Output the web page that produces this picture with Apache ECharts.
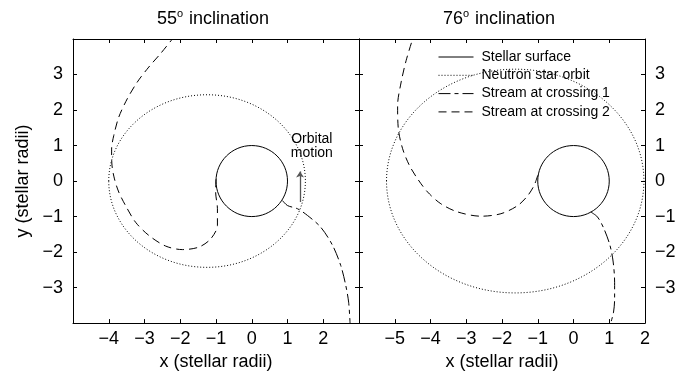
<!DOCTYPE html>
<html>
<head>
<meta charset="utf-8">
<title>Stream trajectories</title>
<script src="https://cdn.jsdelivr.net/npm/echarts@6.0.0/dist/echarts.min.js"></script>
<style>
  html, body { margin: 0; padding: 0; background: #fff; }
  #chart { width: 685px; height: 376px; }
</style>
</head>
<body>
<div id="chart"></div>
<script>
  // ellipses: [centre x, centre y, radius x, radius y] in stellar radii
  var surface = [0, 0, 1, 1];
  var orbit55 = [-1.25, 0, 2.75, 2.43];
  var orbit76 = [-1.63, 0, 3.6, 3.15];

  // stream paths, [x, y]
  var stream1_55 = [[0.86, -0.55], [1.0, -0.69], [1.28, -0.78], [1.56, -0.97], [1.93, -1.30],
    [2.26, -1.81], [2.49, -2.38], [2.63, -2.94], [2.71, -3.41], [2.75, -4.0]];
  var stream2_55 = [[-1.0, 0.05], [-1.01, -0.31], [-0.96, -0.78], [-0.96, -1.25], [-1.15, -1.63],
    [-1.48, -1.86], [-1.94, -1.93], [-2.41, -1.83], [-2.88, -1.53], [-3.25, -1.16], [-3.53, -0.69],
    [-3.72, -0.31], [-3.84, 0.06], [-3.91, 0.45], [-3.92, 0.9], [-3.86, 1.28], [-3.72, 1.80],
    [-3.48, 2.32], [-3.2, 2.79], [-2.88, 3.21], [-2.55, 3.59], [-2.22, 4.0]];
  var stream1_76 = [[0.48, -0.87], [0.67, -1.01], [0.85, -1.34], [1.02, -1.81], [1.11, -2.28],
    [1.15, -2.85], [1.15, -3.32], [1.12, -3.69], [1.04, -4.0]];
  var stream2_76 = [[-1.0, 0.16], [-1.10, -0.12], [-1.28, -0.41], [-1.56, -0.69], [-2.03, -0.92],
    [-2.59, -0.99], [-3.24, -0.87], [-3.71, -0.64], [-4.08, -0.31], [-4.36, 0.06], [-4.59, 0.44],
    [-4.78, 0.91], [-4.90, 1.47], [-4.92, 2.13], [-4.82, 2.79], [-4.68, 3.40], [-4.5, 4.0]];

  // orbital motion arrow, from / to
  var arrow55 = [[1.35, -0.59], [1.35, 0.27]];
  var arrowLabel55 = [1.68, 0.99];

  var titles = ['55', '76'];
  var xRanges = [[-5, 3], [-6, 2]];
  var yRange = [-4, 4];
  var legendNames = ['Stellar surface', 'Neutron star orbit', 'Stream at crossing 1', 'Stream at crossing 2'];

  var FONT = 'Liberation Sans, Arial, sans-serif';
  var DOT = [1, 2];
  var DASH = [8, 5];
  var DASHDOT = [12, 4, 4, 4];

  function fmt(v) {
    return v < 0 ? '\u2212' + (-v) : String(v);
  }

  function ellipseItem(dash) {
    return function (params, api) {
      var c = api.coord([api.value(0), api.value(1)]);
      var s = api.size([api.value(2), api.value(3)]);
      return {
        type: 'ellipse',
        shape: { cx: c[0], cy: c[1], rx: s[0], ry: s[1] },
        style: { fill: 'none', stroke: '#000', lineWidth: 1, lineDash: dash }
      };
    };
  }

  function xAxis(grid, pos, range, labels, hideMax) {
    return {
      type: 'value', gridIndex: grid, position: pos,
      min: range[0], max: range[1], interval: 1,
      axisLine: { show: true, onZero: false, lineStyle: { color: '#000', width: 1 } },
      axisTick: { show: true, inside: true, length: 4, lineStyle: { color: '#000' } },
      splitLine: { show: false },
      axisLabel: {
        show: labels, showMinLabel: false, showMaxLabel: !hideMax,
        formatter: fmt, color: '#000', fontSize: 18, fontFamily: FONT, margin: 7
      },
      name: labels ? 'x (stellar radii)' : '',
      nameLocation: 'middle', nameGap: 26,
      nameTextStyle: { color: '#000', fontSize: 18, fontFamily: FONT }
    };
  }

  function yAxis(grid, pos, labels, named) {
    return {
      type: 'value', gridIndex: grid, position: pos,
      min: yRange[0], max: yRange[1], interval: 1,
      axisLine: { show: true, onZero: false, lineStyle: { color: '#000', width: 1 } },
      axisTick: { show: true, inside: true, length: 4, lineStyle: { color: '#000' } },
      splitLine: { show: false },
      axisLabel: {
        show: labels, showMinLabel: false, showMaxLabel: false,
        formatter: fmt, color: '#000', fontSize: 18, fontFamily: FONT, margin: 10
      },
      name: named ? 'y (stellar radii)' : '',
      nameLocation: 'middle', nameGap: 41,
      nameTextStyle: { color: '#000', fontSize: 18, fontFamily: FONT }
    };
  }

  function streamSeries(name, data, grid, dash) {
    return {
      name: name, type: 'line', xAxisIndex: grid * 2, yAxisIndex: grid * 2,
      data: data, symbol: 'none', smooth: 0.3, silent: true,
      itemStyle: { color: '#000' },
      lineStyle: { color: '#000', width: 1, type: dash }
    };
  }

  function ellipseSeries(name, data, grid, dash) {
    return {
      name: name, type: 'custom', xAxisIndex: grid * 2, yAxisIndex: grid * 2,
      data: [data], silent: true, renderItem: ellipseItem(dash)
    };
  }

  var chart = echarts.init(document.getElementById('chart'));

  var s1left = streamSeries(legendNames[2], stream1_55, 0, DASHDOT);
  s1left.markLine = {
    silent: true, symbol: ['none', 'arrow'], symbolSize: 6,
    lineStyle: { color: '#555', width: 1.3, type: 'solid' },
    label: { show: false },
    data: [[{ coord: arrow55[0] }, { coord: arrow55[1] }]]
  };
  s1left.markPoint = {
    silent: true, symbol: 'circle', symbolSize: 0,
    label: {
      show: true, position: 'inside', formatter: 'Orbital\nmotion',
      color: '#000', fontSize: 14, lineHeight: 14, fontFamily: FONT
    },
    data: [{ coord: arrowLabel55 }]
  };

  var option = {
    animation: false,
    backgroundColor: '#fff',
    graphic: titles.map(function (t, i) {
      return {
        type: 'text', x: i === 0 ? 213 : 499, y: 19,
        style: {
          text: t + '{s|o} inclination', align: 'center', verticalAlign: 'middle',
          fontSize: 18, fontFamily: FONT, fill: '#000',
          rich: { s: { fontSize: 11, fontFamily: FONT, verticalAlign: 'top', padding: [0, 1, 11, 0] } }
        }
      };
    }),
    legend: {
      data: legendNames, orient: 'vertical', left: 438, top: 50, padding: 0,
      itemWidth: 35, itemHeight: 14, itemGap: 4.3, selectedMode: false,
      itemStyle: { opacity: 0 },
      lineStyle: { width: 1 },
      textStyle: { color: '#000', fontSize: 14, fontFamily: FONT, padding: [0, 0, 0, 3] }
    },
    grid: [
      { left: 73, top: 39, width: 286, height: 286 },
      { left: 359, top: 39, width: 286, height: 286 }
    ],
    xAxis: [
      xAxis(0, 'bottom', xRanges[0], true, true),
      xAxis(0, 'top', xRanges[0], false, true),
      xAxis(1, 'bottom', xRanges[1], true, false),
      xAxis(1, 'top', xRanges[1], false, false)
    ],
    yAxis: [
      yAxis(0, 'left', true, true),
      yAxis(0, 'right', false, false),
      yAxis(1, 'left', false, false),
      yAxis(1, 'right', true, false)
    ],
    series: [
      // legend-only entries for the drawn ellipses
      { name: legendNames[0], type: 'line', data: [], symbol: 'none', itemStyle: { color: '#000' },
        lineStyle: { color: '#000', width: 1, type: 'solid' } },
      { name: legendNames[1], type: 'line', data: [], symbol: 'none', itemStyle: { color: '#000' },
        lineStyle: { color: '#000', width: 1, type: DOT } },
      ellipseSeries(legendNames[0], surface, 0, null),
      ellipseSeries(legendNames[0], surface, 1, null),
      ellipseSeries(legendNames[1], orbit55, 0, DOT),
      ellipseSeries(legendNames[1], orbit76, 1, DOT),
      s1left,
      streamSeries(legendNames[2], stream1_76, 1, DASHDOT),
      streamSeries(legendNames[3], stream2_55, 0, DASH),
      streamSeries(legendNames[3], stream2_76, 1, DASH)
    ]
  };

  chart.setOption(option);
</script>
</body>
</html>
